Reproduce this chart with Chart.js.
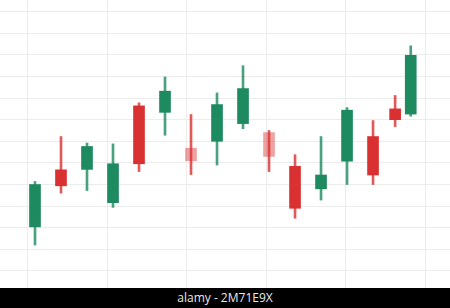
<!DOCTYPE html>
<html lang="en">
<head>
  <meta charset="UTF-8" />
  <title>Candlestick</title>
  <script src="https://cdn.jsdelivr.net/npm/chart.js"></script>
  <style>
    html, body { margin: 0; padding: 0; background: #fff; }
    #wrap { width: 450px; height: 288px; position: relative; }
    #stamp {
      width: 450px; height: 20px; background: #000; color: #e8e8e8;
      font: 12px "Open Sans", sans-serif; text-align: center; line-height: 20px;
    }
  </style>
</head>
<body>
  <div id="wrap"><canvas id="candles"></canvas></div>
  <div id="stamp">alamy - 2M71E9X</div>

  <script>
    // candle data (day index, OHLC)
    const days   = [1, 2, 3, 4, 5, 6, 7, 8, 9, 10, 11, 12, 13, 14, 14.85, 15.45];
    const opens  = [110.2, 123.4, 123.5, 115.8, 138.2, 136.7, 128.4, 130.0, 134.1, 132.0, 124.2, 119.0, 125.4, 131.1, 137.5, 136.3];
    const highs  = [120.7, 131.1, 129.6, 129.4, 138.9, 144.9, 136.2, 141.2, 147.5, 132.5, 126.9, 131.1, 137.8, 134.8, 140.6, 152.1];
    const lows   = [106.0, 118.0, 118.6, 114.7, 123.0, 131.4, 122.3, 124.5, 132.9, 123.0, 112.2, 116.4, 120.0, 120.0, 133.4, 135.8];
    const closes = [120.0, 119.7, 128.8, 124.8, 124.8, 141.6, 125.5, 138.5, 142.2, 126.5, 114.5, 122.2, 137.2, 122.2, 135.0, 149.9];
    // candles partly covered by the watermark
    const faded  = [6, 9];

    // grid positions
    const gridX = [0.72, 3.78, 6.84, 9.9, 12.96, 16.03];
    const gridY = [100, 105, 110, 115, 120, 125, 130, 135, 140, 145, 150, 155, 160];

    const green = '#1d8a5f', red = '#d93131';
    const bodyColors = days.map((d, i) => {
      const up = closes[i] >= opens[i];
      if (faded.includes(i)) return up ? 'rgba(29,138,95,0.45)' : 'rgba(217,49,49,0.45)';
      return up ? green : red;
    });
    const wickColors = days.map((d, i) => closes[i] >= opens[i] ? 'rgba(29,138,95,0.8)' : 'rgba(217,49,49,0.8)');

    const ctx = document.getElementById('candles').getContext('2d');
    new Chart(ctx, {
      type: 'bar',
      data: {
        datasets: [
          {
            label: 'body',
            data: days.map((d, i) => ({ x: d, y: [opens[i], closes[i]] })),
            backgroundColor: bodyColors,
            barThickness: 11,
            grouped: false,
            borderWidth: 0
          },
          {
            label: 'wick',
            data: days.map((d, i) => ({ x: d, y: [lows[i], highs[i]] })),
            backgroundColor: wickColors,
            barThickness: 2,
            grouped: false,
            borderWidth: 0
          }
        ]
      },
      options: {
        responsive: true,
        maintainAspectRatio: false,
        animation: false,
        layout: { padding: 0 },
        plugins: { legend: { display: false }, tooltip: { enabled: false } },
        scales: {
          x: {
            type: 'linear',
            offset: false,
            min: -0.346,
            max: 16.96,
            border: { display: false },
            grid: { color: '#ececec', drawTicks: false, offset: false },
            ticks: { display: false },
            afterBuildTicks: axis => { axis.ticks = gridX.map(v => ({ value: v })); }
          },
          y: {
            min: 96.05,
            max: 162.7,
            border: { display: false },
            grid: { color: '#ececec', drawTicks: false },
            ticks: { display: false },
            afterBuildTicks: axis => { axis.ticks = gridY.map(v => ({ value: v })); }
          }
        }
      }
    });
  </script>
</body>
</html>
